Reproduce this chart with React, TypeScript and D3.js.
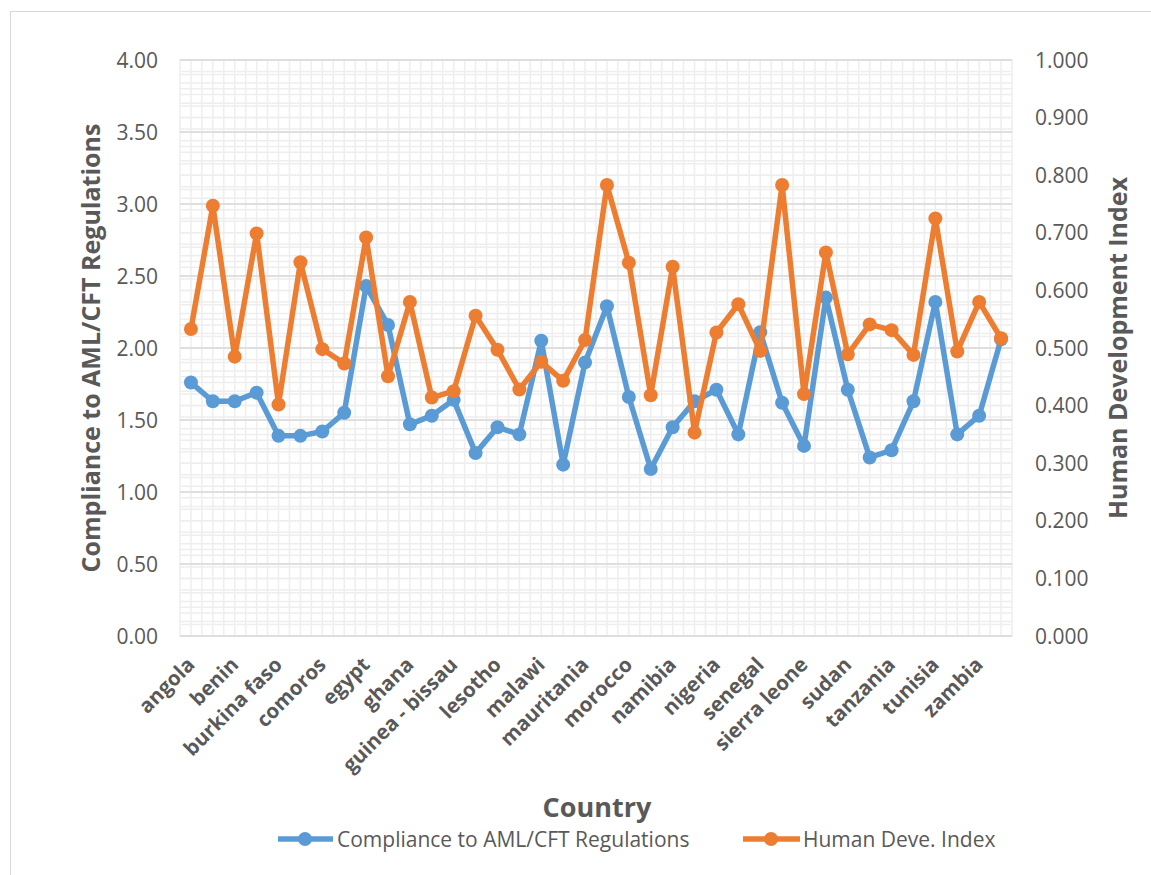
import React from "react";
import * as d3 from "d3";

const countries: string[] = [
  "angola", "algeria", "benin", "botswana", "burkina faso", "burundi", "comoros", "djibouti",
  "egypt", "ethiopia", "ghana", "guinea", "guinea - bissau", "kenya", "lesotho", "madagascar",
  "malawi", "mali", "mauritania", "mauritius", "morocco", "mozambique", "namibia", "niger",
  "nigeria", "rwanda", "senegal", "seychelles", "sierra leone", "south africa", "sudan", "swaziland",
  "tanzania", "togo", "tunisia", "uganda", "zambia", "zimbabwe",
];

const compliance: number[] = [
  1.76, 1.63, 1.63, 1.69, 1.39, 1.39, 1.42, 1.55, 2.43, 2.16, 1.47, 1.53, 1.64, 1.27, 1.45, 1.40,
  2.05, 1.19, 1.90, 2.29, 1.66, 1.16, 1.45, 1.63, 1.71, 1.40, 2.11, 1.62, 1.32, 2.35, 1.71, 1.24,
  1.29, 1.63, 2.32, 1.40, 1.53, 2.06,
];

const hdi: number[] = [
  0.533, 0.747, 0.485, 0.699, 0.402, 0.649, 0.498, 0.473, 0.692, 0.451, 0.580, 0.414, 0.425, 0.556,
  0.497, 0.428, 0.476, 0.443, 0.514, 0.783, 0.648, 0.418, 0.641, 0.353, 0.527, 0.576, 0.495, 0.783,
  0.420, 0.666, 0.489, 0.541, 0.531, 0.488, 0.725, 0.494, 0.580, 0.517,
];

const leftTicks: number[] = [0, 0.5, 1, 1.5, 2, 2.5, 3, 3.5, 4];
const rightTicks: number[] = [0, 0.1, 0.2, 0.3, 0.4, 0.5, 0.6, 0.7, 0.8, 0.9, 1.0];

const seriesNames = ["Compliance to AML/CFT Regulations", "Human Deve. Index"];
const leftTitle = "Compliance to AML/CFT Regulations";
const rightTitle = "Human Development Index";
const xTitle = "Country";

const W = 1151;
const H = 875;
const plot = { left: 180, right: 1012, top: 60, bottom: 636 };
const BLUE = "#5B9BD5";
const ORANGE = "#ED7D31";
const TEXT = "#595959";
const FONT = "'Open Sans', sans-serif";

export default function App() {
  const x = d3
    .scaleBand<string>()
    .domain(countries)
    .range([plot.left, plot.right])
    .paddingInner(0)
    .paddingOuter(0);
  const bw = x.bandwidth();
  const cx = (c: string) => (x(c) as number) + bw / 2;
  const yL = d3.scaleLinear().domain([0, 4]).range([plot.bottom, plot.top]);
  const yR = d3.scaleLinear().domain([0, 1]).range([plot.bottom, plot.top]);

  const lineL = d3
    .line<number>()
    .x((_, i) => cx(countries[i]))
    .y((d) => yL(d));
  const lineR = d3
    .line<number>()
    .x((_, i) => cx(countries[i]))
    .y((d) => yR(d));

  const minorL = d3.range(0, 4.0001, 0.1).map((v) => yL(v));
  const minorR = d3.range(0, 1.0001, 0.02).map((v) => yR(v));
  const vLines = d3.range(0, countries.length * 2 + 1).map((k) => plot.left + (k * bw) / 2);

  return (
    <div style={{ position: "absolute", left: 0, top: 0, width: W, height: H, background: "#fff" }}>
      <svg width={W} height={H} style={{ display: "block", fontFamily: FONT }}>
        <rect x={0} y={0} width={W} height={H} fill="#fff" />
        <rect x={10.5} y={11.5} width={W + 50} height={H + 50} fill="none" stroke="#d9d9d9" strokeWidth={1} />

        {/* minor grid */}
        <g stroke="#eeeeee" strokeWidth={1.5}>
          {vLines.map((vx, i) => (
            <line key={"v" + i} x1={vx} x2={vx} y1={plot.top} y2={plot.bottom} />
          ))}
          {minorL.map((vy, i) => (
            <line key={"ml" + i} x1={plot.left} x2={plot.right} y1={vy} y2={vy} />
          ))}
          {minorR.map((vy, i) => (
            <line key={"mr" + i} x1={plot.left} x2={plot.right} y1={vy} y2={vy} />
          ))}
        </g>
        {/* major grid */}
        <g stroke="#d9d9d9" strokeWidth={1.5}>
          {leftTicks.map((t) => (
            <line key={"g" + t} x1={plot.left} x2={plot.right} y1={yL(t)} y2={yL(t)} />
          ))}
        </g>

        {/* left ticks */}
        <g fill={TEXT} fontSize={21} textAnchor="end">
          {leftTicks.map((t) => (
            <text key={"lt" + t} x={158} y={yL(t)} dy="0.36em">
              {d3.format(".2f")(t)}
            </text>
          ))}
        </g>
        {/* right ticks */}
        <g fill={TEXT} fontSize={21} textAnchor="start">
          {rightTicks.map((t) => (
            <text key={"rt" + t} x={1035} y={yR(t)} dy="0.36em">
              {d3.format(".3f")(t)}
            </text>
          ))}
        </g>

        {/* x labels */}
        <g fill={TEXT} fontSize={20.5} fontWeight="bold" textAnchor="end">
          {countries.map((c, i) =>
            i % 2 === 0 ? (
              <text key={"xl" + c} transform={`translate(${cx(c) + 5},${plot.bottom + 30}) rotate(-45)`}>
                {c}
              </text>
            ) : null
          )}
        </g>

        {/* axis titles */}
        <text
          transform={`translate(100,${(plot.top + plot.bottom) / 2}) rotate(-90)`}
          textAnchor="middle"
          fill={TEXT}
          fontSize={25}
          fontWeight="bold"
        >
          {leftTitle}
        </text>
        <text
          transform={`translate(1127,${(plot.top + plot.bottom) / 2}) rotate(-90)`}
          textAnchor="middle"
          fill={TEXT}
          fontSize={25}
          fontWeight="bold"
        >
          {rightTitle}
        </text>
        <text x={597} y={817} textAnchor="middle" fill={TEXT} fontSize={27} fontWeight="bold">
          {xTitle}
        </text>

        {/* series */}
        <path d={lineL(compliance) || ""} fill="none" stroke={BLUE} strokeWidth={5.5} strokeLinejoin="round" />
        {compliance.map((v, i) => (
          <circle key={"cb" + i} cx={cx(countries[i])} cy={yL(v)} r={7} fill={BLUE} />
        ))}
        <path d={lineR(hdi) || ""} fill="none" stroke={ORANGE} strokeWidth={5.5} strokeLinejoin="round" />
        {hdi.map((v, i) => (
          <circle key={"co" + i} cx={cx(countries[i])} cy={yR(v)} r={7} fill={ORANGE} />
        ))}

        {/* legend */}
        <g>
          <line x1={278} x2={333} y1={839} y2={839} stroke={BLUE} strokeWidth={5.5} />
          <circle cx={305} cy={839} r={7} fill={BLUE} />
          <text x={337} y={839} dy="0.36em" fill={TEXT} fontSize={21}>
            {seriesNames[0]}
          </text>
          <line x1={743} x2={800} y1={839} y2={839} stroke={ORANGE} strokeWidth={5.5} />
          <circle cx={771} cy={839} r={7} fill={ORANGE} />
          <text x={803} y={839} dy="0.36em" fill={TEXT} fontSize={21}>
            {seriesNames[1]}
          </text>
        </g>
      </svg>
    </div>
  );
}
